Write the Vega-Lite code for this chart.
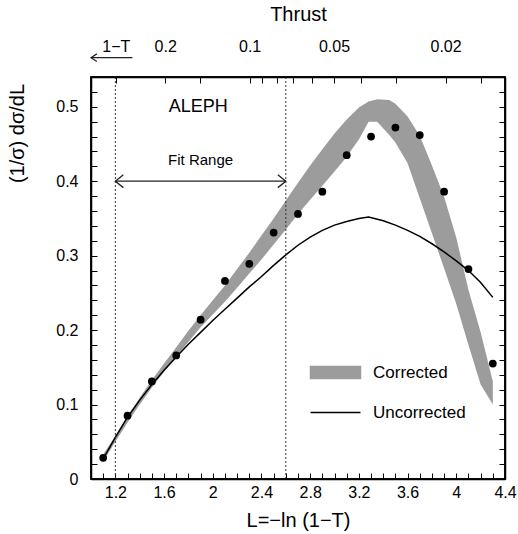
{
  "$schema": "https://vega.github.io/schema/vega-lite/v6.json",
  "width": 414,
  "height": 402,
  "autosize": {"type": "none"},
  "padding": {"left": 91, "top": 77, "right": 13, "bottom": 55},
  "background": "white",
  "datasets": {
    "points": [
      {"L": 1.1, "v": 0.0285}, {"L": 1.3, "v": 0.085}, {"L": 1.5, "v": 0.131},
      {"L": 1.7, "v": 0.166}, {"L": 1.9, "v": 0.214}, {"L": 2.1, "v": 0.266},
      {"L": 2.3, "v": 0.289}, {"L": 2.5, "v": 0.331}, {"L": 2.7, "v": 0.356},
      {"L": 2.9, "v": 0.386}, {"L": 3.1, "v": 0.435}, {"L": 3.3, "v": 0.460},
      {"L": 3.5, "v": 0.472}, {"L": 3.7, "v": 0.462}, {"L": 3.9, "v": 0.386},
      {"L": 4.1, "v": 0.282}, {"L": 4.3, "v": 0.155}
    ],
    "band": [
      {"L": 1.1, "hi": 0.033, "lo": 0.024, "series": "Corrected"},
      {"L": 1.2, "hi": 0.058, "lo": 0.050, "series": "Corrected"},
      {"L": 1.3, "hi": 0.084, "lo": 0.076, "series": "Corrected"},
      {"L": 1.4, "hi": 0.109, "lo": 0.100, "series": "Corrected"},
      {"L": 1.5, "hi": 0.133, "lo": 0.123, "series": "Corrected"},
      {"L": 1.6, "hi": 0.155, "lo": 0.144, "series": "Corrected"},
      {"L": 1.7, "hi": 0.177, "lo": 0.164, "series": "Corrected"},
      {"L": 1.8, "hi": 0.199, "lo": 0.184, "series": "Corrected"},
      {"L": 1.9, "hi": 0.220, "lo": 0.204, "series": "Corrected"},
      {"L": 2.0, "hi": 0.240, "lo": 0.221, "series": "Corrected"},
      {"L": 2.1, "hi": 0.260, "lo": 0.238, "series": "Corrected"},
      {"L": 2.2, "hi": 0.282, "lo": 0.257, "series": "Corrected"},
      {"L": 2.3, "hi": 0.304, "lo": 0.276, "series": "Corrected"},
      {"L": 2.4, "hi": 0.327, "lo": 0.295, "series": "Corrected"},
      {"L": 2.5, "hi": 0.350, "lo": 0.315, "series": "Corrected"},
      {"L": 2.6, "hi": 0.374, "lo": 0.335, "series": "Corrected"},
      {"L": 2.7, "hi": 0.398, "lo": 0.356, "series": "Corrected"},
      {"L": 2.8, "hi": 0.421, "lo": 0.375, "series": "Corrected"},
      {"L": 2.9, "hi": 0.443, "lo": 0.394, "series": "Corrected"},
      {"L": 3.0, "hi": 0.464, "lo": 0.413, "series": "Corrected"},
      {"L": 3.1, "hi": 0.483, "lo": 0.433, "series": "Corrected"},
      {"L": 3.2, "hi": 0.499, "lo": 0.456, "series": "Corrected"},
      {"L": 3.28, "hi": 0.507, "lo": 0.480, "series": "Corrected"},
      {"L": 3.35, "hi": 0.510, "lo": 0.480, "series": "Corrected"},
      {"L": 3.45, "hi": 0.509, "lo": 0.462, "series": "Corrected"},
      {"L": 3.5, "hi": 0.504, "lo": 0.452, "series": "Corrected"},
      {"L": 3.6, "hi": 0.487, "lo": 0.424, "series": "Corrected"},
      {"L": 3.7, "hi": 0.461, "lo": 0.377, "series": "Corrected"},
      {"L": 3.8, "hi": 0.421, "lo": 0.330, "series": "Corrected"},
      {"L": 3.9, "hi": 0.379, "lo": 0.283, "series": "Corrected"},
      {"L": 4.0, "hi": 0.324, "lo": 0.235, "series": "Corrected"},
      {"L": 4.1, "hi": 0.254, "lo": 0.180, "series": "Corrected"},
      {"L": 4.2, "hi": 0.197, "lo": 0.127, "series": "Corrected"},
      {"L": 4.3, "hi": 0.131, "lo": 0.100, "series": "Corrected"}
    ],
    "curve": [
      {"L": 1.1, "v": 0.027, "series": "Uncorrected"},
      {"L": 1.2, "v": 0.056, "series": "Uncorrected"},
      {"L": 1.3, "v": 0.083, "series": "Uncorrected"},
      {"L": 1.4, "v": 0.106, "series": "Uncorrected"},
      {"L": 1.5, "v": 0.127, "series": "Uncorrected"},
      {"L": 1.6, "v": 0.146, "series": "Uncorrected"},
      {"L": 1.7, "v": 0.164, "series": "Uncorrected"},
      {"L": 1.8, "v": 0.181, "series": "Uncorrected"},
      {"L": 1.9, "v": 0.197, "series": "Uncorrected"},
      {"L": 2.0, "v": 0.213, "series": "Uncorrected"},
      {"L": 2.1, "v": 0.228, "series": "Uncorrected"},
      {"L": 2.2, "v": 0.243, "series": "Uncorrected"},
      {"L": 2.3, "v": 0.258, "series": "Uncorrected"},
      {"L": 2.4, "v": 0.272, "series": "Uncorrected"},
      {"L": 2.5, "v": 0.287, "series": "Uncorrected"},
      {"L": 2.6, "v": 0.301, "series": "Uncorrected"},
      {"L": 2.7, "v": 0.314, "series": "Uncorrected"},
      {"L": 2.8, "v": 0.325, "series": "Uncorrected"},
      {"L": 2.9, "v": 0.334, "series": "Uncorrected"},
      {"L": 3.0, "v": 0.341, "series": "Uncorrected"},
      {"L": 3.1, "v": 0.346, "series": "Uncorrected"},
      {"L": 3.2, "v": 0.350, "series": "Uncorrected"},
      {"L": 3.28, "v": 0.352, "series": "Uncorrected"},
      {"L": 3.4, "v": 0.347, "series": "Uncorrected"},
      {"L": 3.5, "v": 0.341, "series": "Uncorrected"},
      {"L": 3.6, "v": 0.334, "series": "Uncorrected"},
      {"L": 3.7, "v": 0.326, "series": "Uncorrected"},
      {"L": 3.8, "v": 0.316, "series": "Uncorrected"},
      {"L": 3.9, "v": 0.305, "series": "Uncorrected"},
      {"L": 4.0, "v": 0.293, "series": "Uncorrected"},
      {"L": 4.1, "v": 0.280, "series": "Uncorrected"},
      {"L": 4.2, "v": 0.264, "series": "Uncorrected"},
      {"L": 4.3, "v": 0.244, "series": "Uncorrected"}
    ]
  },
  "layer": [
    {
      "layer": [
        {
          "data": {"name": "band"},
          "mark": {"type": "area", "opacity": 1},
          "encoding": {
            "x": {"field": "L", "type": "quantitative"},
            "y": {"field": "hi", "type": "quantitative"},
            "y2": {"field": "lo"},
            "color": {"field": "series", "type": "nominal"}
          }
        },
        {
          "data": {"name": "curve"},
          "mark": {"type": "line", "strokeWidth": 1.5},
          "encoding": {
            "x": {"field": "L", "type": "quantitative"},
            "y": {"field": "v", "type": "quantitative"},
            "color": {"field": "series", "type": "nominal"}
          }
        },
        {
          "data": {"values": [{"edge": 1.2}, {"edge": 2.6}]},
          "mark": {"type": "rule", "strokeDash": [2, 2], "strokeWidth": 1, "color": "#333"},
          "encoding": {"x": {"field": "edge", "type": "quantitative"}}
        },
        {
          "data": {"values": [{"from": 1.2, "to": 2.6, "at": 0.4}, {"from": 1.0, "to": 1.34, "at": 0.566}]},
          "mark": {"type": "rule", "strokeWidth": 1.3, "color": "#222"},
          "encoding": {
            "x": {"field": "from", "type": "quantitative"},
            "x2": {"field": "to"},
            "y": {"field": "at", "type": "quantitative"}
          }
        },
        {
          "data": {"values": [{"end": 1.2, "at": 0.4, "dir": "left"}, {"end": 2.6, "at": 0.4, "dir": "right"}]},
          "mark": {"type": "point", "filled": false, "size": 256, "strokeWidth": 1.3, "color": "#222", "opacity": 1},
          "encoding": {
            "x": {"field": "end", "type": "quantitative"},
            "y": {"field": "at", "type": "quantitative"},
            "shape": {"field": "dir", "type": "nominal", "legend": null,
              "scale": {"domain": ["left", "right"], "range": ["M1,-0.8L0,0L1,0.8", "M-1,-0.8L0,0L-1,0.8"]}}
          }
        },
        {
          "data": {"values": [{"end": 1.0, "at": 0.566}]},
          "mark": {"type": "point", "filled": false, "size": 70, "strokeWidth": 1.2, "color": "#222", "opacity": 1, "shape": "M1.4,-0.9L0,0L1.4,0.9"},
          "encoding": {
            "x": {"field": "end", "type": "quantitative"},
            "y": {"field": "at", "type": "quantitative"}
          }
        },
        {
          "data": {"name": "points"},
          "mark": {"type": "point", "filled": true, "size": 60, "color": "black", "opacity": 1},
          "encoding": {
            "x": {"field": "L", "type": "quantitative"},
            "y": {"field": "v", "type": "quantitative"}
          }
        },
        {
          "data": {"values": [{"text": "ALEPH", "L": 1.88, "v": 0.5, "fs": "big"}, {"text": "Fit Range", "L": 1.9, "v": 0.428, "fs": "small"}]},
          "mark": {"type": "text", "font": "Liberation Sans", "color": "black"},
          "encoding": {
            "x": {"field": "L", "type": "quantitative"},
            "y": {"field": "v", "type": "quantitative"},
            "text": {"field": "text"},
            "size": {"field": "fs", "type": "nominal", "legend": null, "scale": {"domain": ["big", "small"], "range": [18, 15]}}
          }
        },
        {
          "data": {"values": [{"x0": 1.0, "x1": 4.4, "y0": 0, "y1": 0.54}]},
          "mark": {"type": "rect", "filled": false, "stroke": "black", "strokeWidth": 1.5, "opacity": 1},
          "encoding": {
            "x": {"field": "x0", "type": "quantitative"},
            "x2": {"field": "x1"},
            "y": {"field": "y0", "type": "quantitative"},
            "y2": {"field": "y1"}
          }
        }
      ],
      "encoding": {
        "x": {
          "axis": {
            "orient": "bottom",
            "title": "L=−ln (1−T)",
            "values": [1.0,1.1,1.2,1.3,1.4,1.5,1.6,1.7,1.8,1.9,2.0,2.1,2.2,2.3,2.4,2.5,2.6,2.7,2.8,2.9,3.0,3.1,3.2,3.3,3.4,3.5,3.6,3.7,3.8,3.9,4.0,4.1,4.2,4.3,4.4],
            "labelExpr": "(round(datum.value*10) % 4 == 0 && datum.value > 1.1) ? format(datum.value, '~g') : ''",
            "labelPadding": 11,
            "titlePadding": 10
          }
        },
        "y": {
          "axis": {
            "orient": "left",
            "title": "(1/σ) dσ/dL",
            "values": [0,0.02,0.04,0.06,0.08,0.1,0.12,0.14,0.16,0.18,0.2,0.22,0.24,0.26,0.28,0.3,0.32,0.34,0.36,0.38,0.4,0.42,0.44,0.46,0.48,0.5,0.52],
            "labelExpr": "round(datum.value*100) % 10 == 0 ? format(datum.value, '~g') : ''",
            "labelPadding": 19,
            "titleX": -64,
            "titleY": 56
          }
        },
        "color": {
          "scale": {"domain": ["Corrected", "Uncorrected"], "range": ["#9c9c9c", "#000000"]},
          "legend": {
            "orient": "none",
            "legendX": 227,
            "legendY": 278,
            "title": null,
            "padding": 0,
            "symbolSize": 1111,
            "rowPadding": 13,
            "labelOffset": 20,
            "labelFont": "Liberation Sans",
            "labelFontSize": 17,
            "labelColor": "black",
            "labelLimit": 200,
            "encode": {
              "symbols": {
                "update": {
                  "shape": {"signal": "datum.value === 'Corrected' ? 'M-1.5,-0.36H1.5V0.36H-1.5Z' : 'M-1.5,0H1.5'"},
                  "fill": {"signal": "datum.value === 'Corrected' ? '#9c9c9c' : 'transparent'"},
                  "stroke": {"signal": "datum.value === 'Corrected' ? 'transparent' : 'black'"},
                  "strokeWidth": {"value": 1.5},
                  "opacity": {"value": 1},
                  "fillOpacity": {"value": 1}
                }
              }
            }
          }
        }
      }
    },
    {
      "data": {"values": [{"L": 2.0, "v": 0.2}]},
      "mark": {"type": "point", "opacity": 0},
      "encoding": {
        "x": {
          "field": "L",
          "type": "quantitative",
          "axis": {
            "orient": "top",
            "title": "Thrust",
            "values": [1.20397, 1.60944, 1.89712, 2.30259, 2.40795, 2.52573, 2.65926, 2.81341, 2.99573, 3.21888, 3.50656, 3.91202, 4.19971],
            "labelExpr": "datum.value < 1.3 ? '1−T' : (abs(datum.value - 1.60944) < 0.001 ? '0.2' : (abs(datum.value - 2.30259) < 0.001 ? '0.1' : (abs(datum.value - 2.99573) < 0.001 ? '0.05' : (abs(datum.value - 3.91202) < 0.001 ? '0.02' : ''))))",
            "labelPadding": 29,
            "titlePadding": 14
          }
        },
        "y": {
          "field": "v",
          "type": "quantitative",
          "axis": {
            "orient": "right",
            "title": null,
            "labels": false,
            "values": [0,0.02,0.04,0.06,0.08,0.1,0.12,0.14,0.16,0.18,0.2,0.22,0.24,0.26,0.28,0.3,0.32,0.34,0.36,0.38,0.4,0.42,0.44,0.46,0.48,0.5,0.52]
          }
        }
      }
    }
  ],
  "encoding": {
    "x": {"scale": {"domain": [1.0, 4.4], "nice": false, "zero": false}},
    "y": {"scale": {"domain": [0, 0.54], "nice": false}}
  },
  "resolve": {"axis": {"x": "independent", "y": "independent"}},
  "config": {
    "font": "Liberation Sans",
    "view": {"stroke": "black", "strokeWidth": 1.5},
    "axis": {
      "grid": false,
      "domainColor": "black",
      "domainWidth": 1.5,
      "tickColor": "black",
      "tickWidth": 1,
      "tickSize": -6,
      "labelFont": "Liberation Sans",
      "labelFontSize": 16,
      "labelColor": "black",
      "labelOverlap": false,
      "labelFlush": false,
      "titleFont": "Liberation Sans",
      "titleFontSize": 20,
      "titleFontWeight": "normal",
      "titleColor": "black"
    }
  }
}
